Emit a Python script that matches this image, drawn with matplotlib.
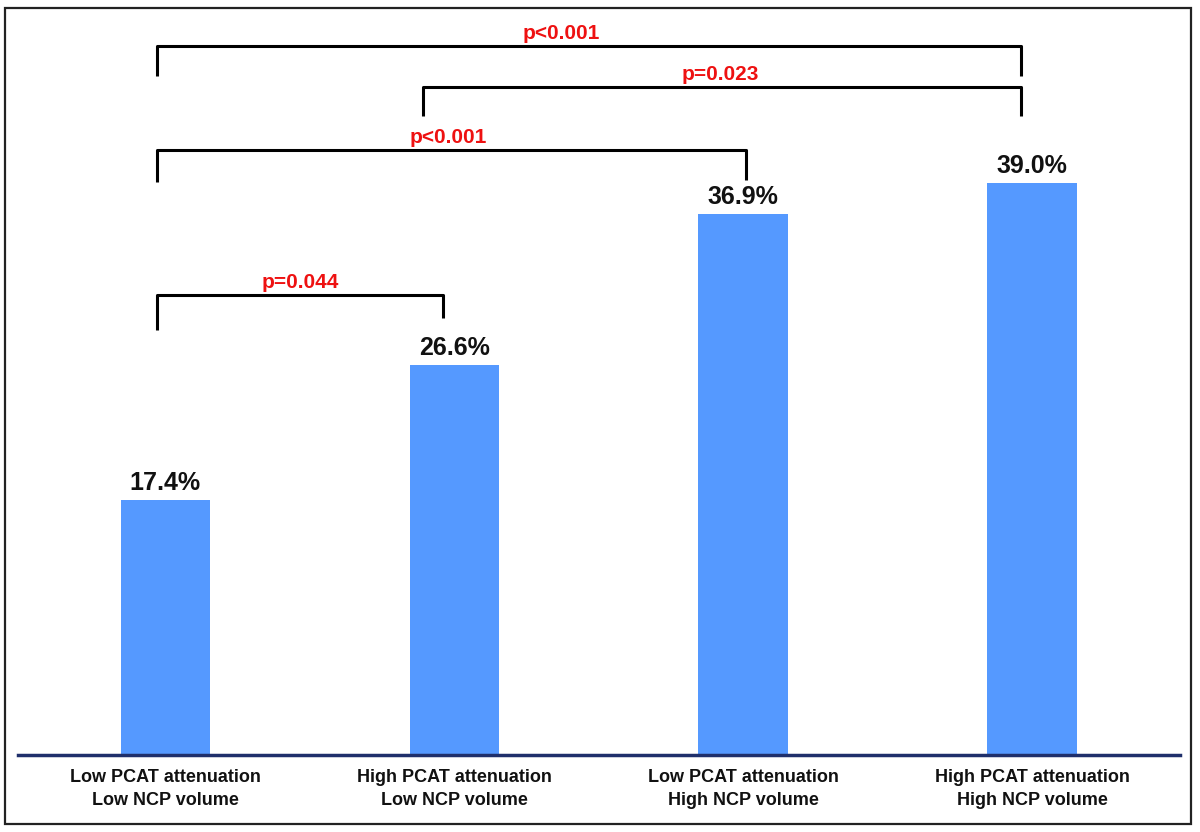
import matplotlib.pyplot as plt
from matplotlib.patches import Rectangle

plt.rcParams['font.family'] = ['Liberation Sans', 'DejaVu Sans']

# Data
categories = ["Low PCAT attenuation\nLow NCP volume",
              "High PCAT attenuation\nLow NCP volume",
              "Low PCAT attenuation\nHigh NCP volume",
              "High PCAT attenuation\nHigh NCP volume"]
values = [17.4, 26.6, 36.9, 39.0]
value_labels = ["17.4%", "26.6%", "36.9%", "39.0%"]

# comparisons: p text with bracket ends (x in bar units, y in %)
p_texts = ["p=0.044", "p<0.001", "p=0.023", "p<0.001"]
bracket_x_left = [-0.03, -0.03, 0.89, -0.03]
bracket_x_right = [0.962, 2.01, 2.96, 2.96]
bracket_top = [31.4, 41.3, 45.6, 48.4]
bracket_left_end = [29.0, 39.1, 43.6, 46.3]
bracket_right_end = [29.8, 39.2, 43.6, 46.3]
label_x = [0.467, 0.98, 1.92, 1.37]

fig = plt.figure(figsize=(12, 8.32), dpi=100)
ax = fig.add_axes([0.015, 0.0925, 0.968, 0.881])

x = range(len(values))
ax.bar(x, values, width=0.31, color='#5599FF', zorder=2)
for xi, v, lab in zip(x, values, value_labels):
    ax.text(xi, v + 0.35, lab, ha='center', va='bottom', fontsize=18,
            fontweight='bold', color='#111111')

for p, xa, xb, top, le, re, lx in zip(p_texts, bracket_x_left, bracket_x_right,
                                      bracket_top, bracket_left_end,
                                      bracket_right_end, label_x):
    ax.plot([xa, xa, xb, xb], [le, top, top, re], color='black', lw=2.2,
            solid_joinstyle='round', solid_capstyle='butt')
    ax.text(lx, top + 0.2, p, ha='center', va='bottom', fontsize=15,
            fontweight='bold', color='#EE1111')

ax.set_xlim(-0.51, 3.51)
ax.set_ylim(0, 50)
ax.axhline(0, color='#1F2F6B', lw=2.5, zorder=3, clip_on=False)
for s in ax.spines.values():
    s.set_visible(False)
ax.set_yticks([])
ax.set_xticks([])
for xi, c in zip(x, categories):
    ax.text(xi, -0.95, c, ha='center', va='top', fontsize=13, fontweight='bold',
            color='#111111', linespacing=1.45)

fig.patches.append(Rectangle((5 / 1200, 1 - 824 / 832), 1186 / 1200, 816 / 832,
                             transform=fig.transFigure, fill=False,
                             edgecolor='#222222', lw=1.6))

fig.savefig("out.png", dpi=100)
